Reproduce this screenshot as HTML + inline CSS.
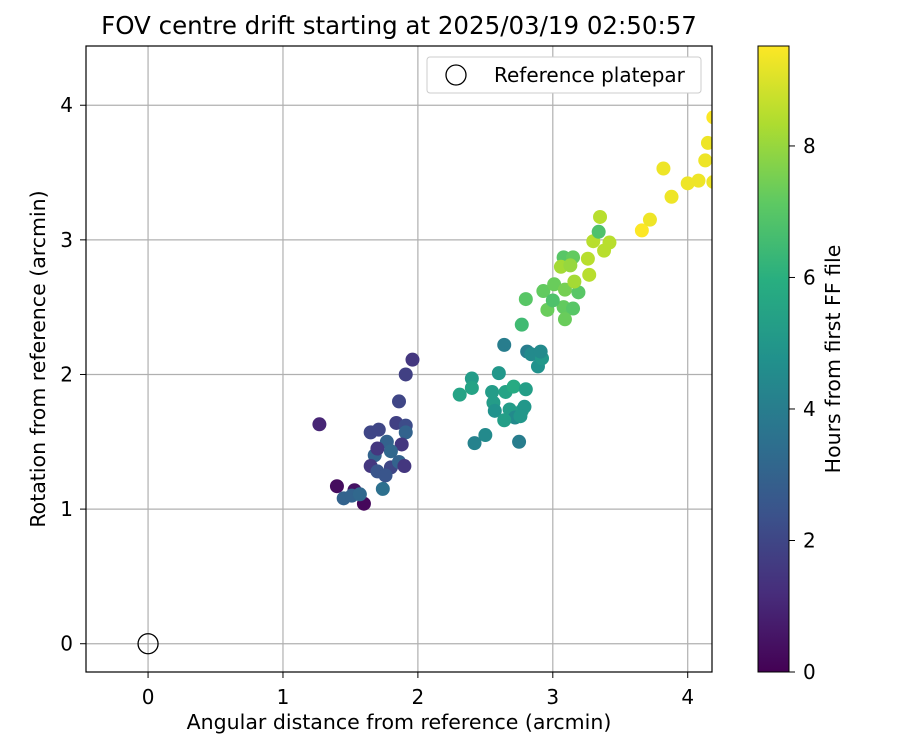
<!DOCTYPE html>
<html><head><meta charset="utf-8"><style>
body{margin:0;background:#fff;font-family:"Liberation Sans","DejaVu Sans",sans-serif}
svg text{font-family:"DejaVu Sans","Liberation Sans",sans-serif}
</style></head><body>
<svg id="c" width="900" height="750" xmlns="http://www.w3.org/2000/svg">
<defs>
<linearGradient id="vir" x1="0" y1="1" x2="0" y2="0">
<stop offset="0" stop-color="#440154"/><stop offset="0.125" stop-color="#472d7b"/><stop offset="0.25" stop-color="#3b528b"/><stop offset="0.375" stop-color="#2c728e"/><stop offset="0.5" stop-color="#21918c"/><stop offset="0.625" stop-color="#28ae80"/><stop offset="0.75" stop-color="#5ec962"/><stop offset="0.875" stop-color="#addc30"/><stop offset="1" stop-color="#fde725"/>
</linearGradient>
<clipPath id="pc"><rect x="86" y="46" width="626" height="626"/></clipPath>
</defs>
<text x="399" y="34" font-size="24.5" text-anchor="middle">FOV centre drift starting at 2025/03/19 02:50:57</text>
<g id="grid"></g>
<g id="pts" clip-path="url(#pc)"></g>
<rect x="86" y="46" width="626" height="626" fill="none" stroke="#000" stroke-width="1.2"/>
<g id="ticks"></g>
<text x="399" y="729" font-size="20.5" text-anchor="middle">Angular distance from reference (arcmin)</text>
<text transform="translate(45,359) rotate(-90)" font-size="20.5" text-anchor="middle">Rotation from reference (arcmin)</text>
<g>
<rect x="427" y="57" width="274" height="36" rx="3" fill="#fff" stroke="#ccc"/>
<circle cx="456" cy="75" r="10" fill="none" stroke="#000" stroke-width="1.3"/>
<text x="494" y="82" font-size="20">Reference platepar</text>
</g>
<rect x="758" y="46" width="31" height="626" fill="url(#vir)" stroke="#000" stroke-width="1"/>
<g id="cbt"></g>
<text transform="translate(840,359) rotate(-90)" font-size="20.5" text-anchor="middle">Hours from first FF file</text>
</svg>
<script>
const xTicks=[0,1,2,3,4];
const yTicks=[0,1,2,3,4];
const cbTicks=[0,2,4,6,8];
const xs=[1.27,1.40,1.53,1.60,1.45,1.51,1.57,1.74,1.96,1.91,1.86,1.65,1.71,1.84,1.91,1.91,1.77,1.88,1.68,1.80,1.70,1.65,1.70,1.80,1.86,1.90,1.76,
2.64,2.81,2.84,2.89,2.92,2.91,2.60,2.40,2.40,2.31,2.55,2.65,2.71,2.80,2.56,2.57,2.68,2.77,2.79,2.72,2.76,2.64,2.50,2.42,2.75,2.77,
2.80,2.93,3.01,3.09,3.19,2.96,3.08,3.15,3.09,3.00,3.08,3.15,3.06,3.13,3.16,3.26,3.27,3.30,3.34,3.35,3.38,3.42,
3.66,3.72,3.88,3.82,4.00,4.08,4.13,4.15,4.19,4.19];
const ys=[1.63,1.17,1.14,1.04,1.08,1.10,1.11,1.15,2.11,2.00,1.80,1.57,1.59,1.64,1.62,1.57,1.50,1.48,1.40,1.43,1.45,1.32,1.28,1.31,1.35,1.32,1.25,
2.22,2.17,2.15,2.06,2.12,2.17,2.01,1.97,1.90,1.85,1.87,1.87,1.91,1.89,1.79,1.73,1.74,1.73,1.76,1.68,1.69,1.66,1.55,1.49,1.50,2.37,
2.56,2.62,2.67,2.63,2.61,2.48,2.50,2.49,2.41,2.55,2.87,2.87,2.80,2.81,2.69,2.86,2.74,2.99,3.06,3.17,2.92,2.98,
3.07,3.15,3.32,3.53,3.42,3.44,3.59,3.72,3.43,3.91];
const hours=[1.0,0.3,0.5,0.2,3.0,3.0,3.2,3.5,1.5,1.8,2.0,2.0,2.0,1.8,2.2,3.0,3.0,1.5,3.0,3.2,1.5,1.5,2.5,2.0,3.0,1.5,2.5,
4.0,4.0,4.5,4.8,5.0,4.5,5.0,5.2,5.5,5.5,5.2,5.5,5.8,5.3,5.2,4.8,5.2,5.2,5.0,4.5,5.0,5.3,4.5,4.2,4.0,6.5,
7.0,7.2,7.3,7.5,7.0,7.3,7.2,7.0,7.3,6.8,7.0,7.2,8.2,8.0,8.2,8.5,8.5,8.5,6.8,8.5,8.5,8.5,
9.5,9.3,9.3,9.3,9.3,9.3,9.3,9.3,9.3,9.5];
const NS='http://www.w3.org/2000/svg';
const X0=-0.46,X1=4.18,Y0=-0.21,Y1=4.44,L=86,T=46,W=626,H=626,HMAX=9.52;
const sx=v=>L+(v-X0)/(X1-X0)*W, sy=v=>T+H-(v-Y0)/(Y1-Y0)*H, sc=h=>T+H-h/HMAX*H;
const V=[[68,1,84],[71,45,123],[59,82,139],[44,114,142],[33,145,140],[40,174,128],[94,201,98],[173,220,48],[253,231,37]];
function vir(t){t=Math.max(0,Math.min(1,t))*8;const i=Math.min(7,Math.floor(t)),f=t-i;return 'rgb('+V[i].map((c,k)=>Math.round(c+(V[i+1][k]-c)*f)).join(',')+')';}
function mk(p,tag,a){const e=document.createElementNS(NS,tag);for(const k in a)e.setAttribute(k,a[k]);p.appendChild(e);return e;}
const g=document.getElementById('grid'),tk=document.getElementById('ticks'),pts=document.getElementById('pts'),cb=document.getElementById('cbt');
xTicks.forEach(v=>{const x=sx(v);
const l=mk(g,'line',{x1:x,x2:x,y1:T,y2:T+H,stroke:'#b0b0b0','stroke-width':1.2});


mk(tk,'line',{x1:x,x2:x,y1:T+H,y2:T+H+6,stroke:'#000'});
const t=mk(tk,'text',{x:x,y:T+H+32,'font-size':20,'text-anchor':'middle'});t.textContent=v;

});
yTicks.forEach(v=>{const y=sy(v);
const l=mk(g,'line',{x1:L,x2:L+W,y1:y,y2:y,stroke:'#b0b0b0','stroke-width':1.2});


mk(tk,'line',{x1:L-6,x2:L,y1:y,y2:y,stroke:'#000'});
const t=mk(tk,'text',{x:L-13,y:y+7,'font-size':20,'text-anchor':'end'});t.textContent=v;

});
cbTicks.forEach(v=>{const y=sc(v);
mk(cb,'line',{x1:789,x2:795,y1:y,y2:y,stroke:'#000'});
const t=mk(cb,'text',{x:803,y:y+7,'font-size':20});t.textContent=v;

});
xs.forEach((v,i)=>{const c=mk(pts,'circle',{cx:sx(v),cy:sy(ys[i]),r:7,fill:vir(hours[i]/HMAX)});

});
const r=mk(pts,'circle',{cx:sx(0),cy:sy(0),r:10,fill:'none',stroke:'#000','stroke-width':1.3});


</script>
</body></html>
